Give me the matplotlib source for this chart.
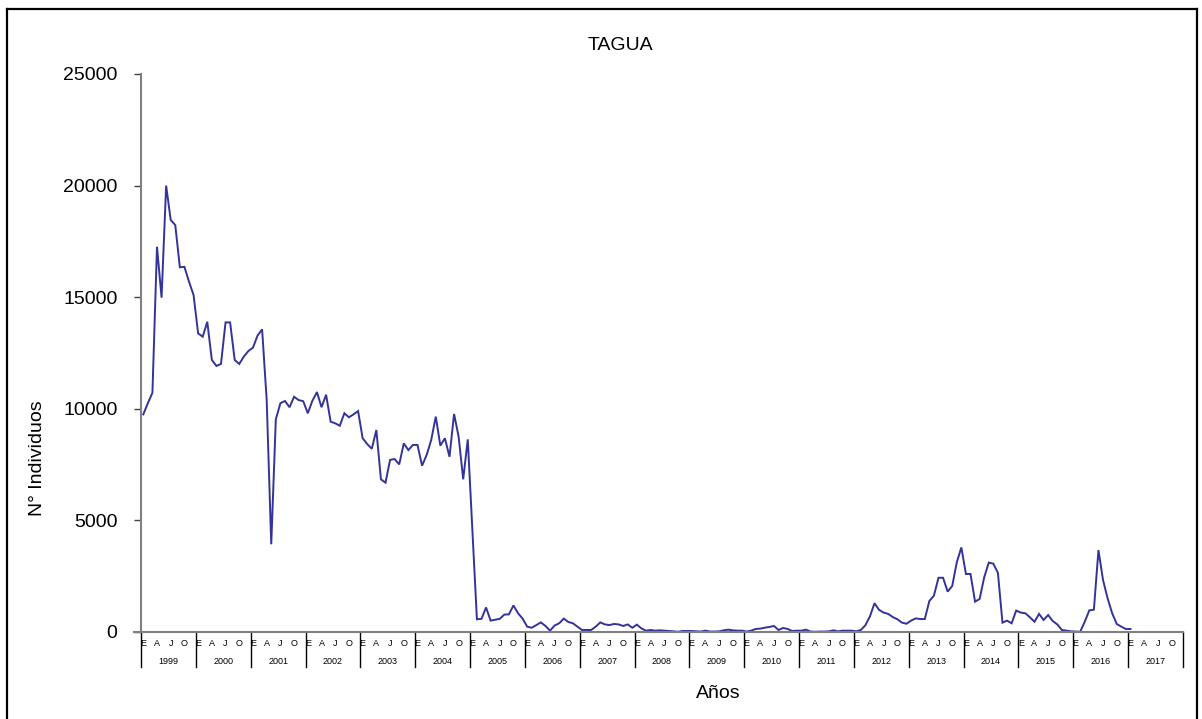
import matplotlib
matplotlib.use("Agg")
import matplotlib.pyplot as plt
from matplotlib.lines import Line2D
import matplotlib.transforms as mtransforms

plt.rcParams['font.family'] = ['Liberation Sans', 'DejaVu Sans']

anios = [str(a) for a in range(1999, 2018)]
meses = ['E', 'A', 'J', 'O']
mes_pos = [0, 3, 6, 9]
yticks = [0, 5000, 10000, 15000, 20000, 25000]

# Monthly values, Jan 1999 .. Jan 2017
v1999 = [9750, 10250, 10720, 17260, 14980, 20000, 18460, 18230, 16340, 16360, 15700, 15100]
v2000 = [13380, 13230, 13900, 12190, 11920, 12010, 13870, 13870, 12190, 12010, 12340, 12590]
v2001 = [12740, 13280, 13560, 10400, 3930, 9530, 10250, 10350, 10070, 10540, 10390, 10340]
v2002 = [9800, 10360, 10750, 10070, 10630, 9420, 9350, 9240, 9800, 9620, 9750, 9900]
v2003 = [8680, 8420, 8210, 9050, 6840, 6690, 7710, 7750, 7510, 8450, 8150, 8380]
v2004 = [8380, 7450, 7930, 8600, 9650, 8350, 8680, 7850, 9770, 8750, 6840, 8630]
v2005 = [4600, 570, 590, 1100, 510, 550, 590, 780, 790, 1190, 840, 600]
v2006 = [240, 190, 310, 430, 270, 60, 290, 390, 600, 450, 390, 240]
v2007 = [90, 90, 90, 240, 430, 340, 310, 360, 340, 270, 340, 190]
v2008 = [330, 160, 60, 90, 60, 75, 60, 45, 30, 10, 45, 45]
v2009 = [45, 30, 20, 60, 20, 20, 30, 75, 105, 75, 60, 60]
v2010 = [20, 60, 135, 150, 195, 225, 270, 90, 180, 135, 45, 60]
v2011 = [60, 105, 20, 10, 20, 20, 30, 75, 30, 60, 60, 60]
v2012 = [30, 90, 300, 700, 1290, 990, 870, 810, 670, 570, 420, 370]
v2013 = [510, 610, 580, 580, 1390, 1630, 2430, 2430, 1810, 2060, 3120, 3790]
v2014 = [2600, 2600, 1360, 1480, 2450, 3110, 3060, 2650, 420, 510, 390, 960]
v2015 = [870, 840, 660, 460, 810, 540, 760, 490, 340, 90, 60, 30]
v2016 = [20, 10, 460, 970, 1000, 3670, 2330, 1510, 840, 360, 240, 135]
v2017 = [135]

individuos = (v1999 + v2000 + v2001 + v2002 + v2003 + v2004 + v2005 + v2006 +
              v2007 + v2008 + v2009 + v2010 + v2011 + v2012 + v2013 + v2014 +
              v2015 + v2016 + v2017)
meses_idx = list(range(len(individuos)))

W, H = 1202, 719
fig = plt.figure(figsize=(W / 100, H / 100), dpi=100)
ax = fig.add_axes([141 / W, 1 - 632 / H, 1042 / W, 558 / H])

ax.plot(meses_idx, individuos, color='#333399', lw=1.4, solid_joinstyle='miter')

n_months = 12 * len(anios)
ax.set_xlim(-0.5, n_months - 0.5)
ax.set_ylim(0, 25000)
ax.set_yticks(yticks)
ax.set_yticklabels([str(t) for t in yticks], fontsize=14)
ax.tick_params(axis='y', direction='out', length=5, width=1, color='#404040', pad=12)

xt = []
xl = []
for k in range(len(anios)):
    for p, m in zip(mes_pos, meses):
        xt.append(12 * k + p)
        xl.append(m)
ax.set_xticks(xt)
ax.set_xticklabels(xl, fontsize=6.5)
ax.tick_params(axis='x', length=0, pad=5)

for s in ['top', 'right']:
    ax.spines[s].set_visible(False)
ax.spines['left'].set_color('#808080')
ax.spines['left'].set_linewidth(1.5)
ax.spines['bottom'].set_color('#808080')
ax.spines['bottom'].set_linewidth(1.5)

trans = mtransforms.blended_transform_factory(ax.transData, ax.transAxes)
sep_depth = -(667 - 632) / 558
for k in range(len(anios) + 1):
    xb = 12 * k - 0.5
    ax.plot([xb, xb], [0, sep_depth], transform=trans, color='black', lw=1.0, clip_on=False)
for k, a in enumerate(anios):
    ax.text(12 * k + 5.5, -(661 - 632) / 558, a, transform=trans, ha='center', va='center',
            fontsize=6.5)
# short stub of axis left of the spine
ax.plot([-2, -0.5], [0, 0], color='#808080', lw=1.5, clip_on=False)

fig.text(620 / W, 1 - 45 / H, 'TAGUA', ha='center', va='center', fontsize=14)
fig.text(38 / W, 1 - 458 / H, 'N° Individuos', ha='center', va='center', rotation=90, fontsize=14)
fig.text(718 / W, 1 - 694 / H, 'Años', ha='center', va='center', fontsize=14)

# outer frame
for (x0, y0, x1, y1) in [(7, 9, 1197, 9), (7, 9, 7, 719), (1197, 9, 1197, 719)]:
    fig.add_artist(Line2D([x0 / W, x1 / W], [1 - y0 / H, 1 - y1 / H], color='black', lw=1.6,
                          transform=fig.transFigure))

fig.savefig('out.png', dpi=100)
